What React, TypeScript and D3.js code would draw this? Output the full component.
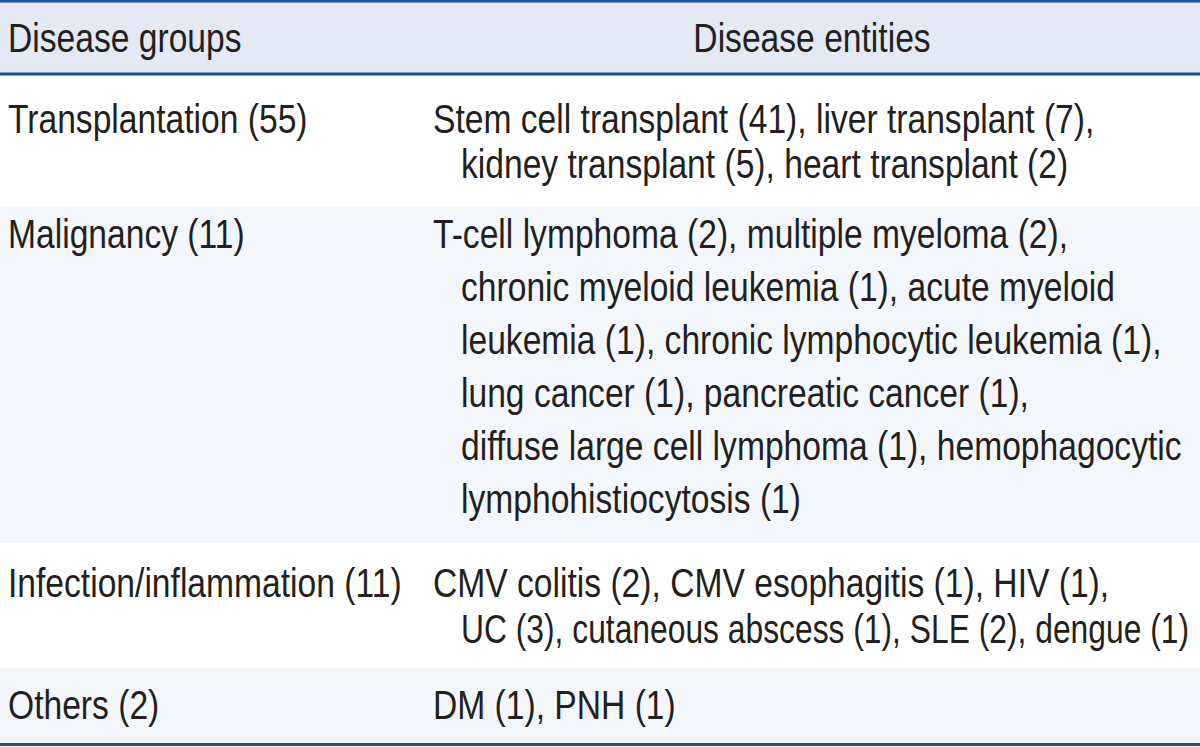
import React, { useEffect, useRef } from 'react'
import * as d3 from 'd3'

// table content
const headers = ['Disease groups', 'Disease entities']

const groups = [
  'Transplantation (55)',
  'Malignancy (11)',
  'Infection/inflammation (11)',
  'Others (2)',
]

const transplantLines = [
  'Stem cell transplant (41), liver transplant (7),',
  'kidney transplant (5), heart transplant (2)',
]
const malignancyLines = [
  'T-cell lymphoma (2), multiple myeloma (2),',
  'chronic myeloid leukemia (1), acute myeloid',
  'leukemia (1), chronic lymphocytic leukemia (1),',
  'lung cancer (1), pancreatic cancer (1),',
  'diffuse large cell lymphoma (1), hemophagocytic',
  'lymphohistiocytosis (1)',
]
const infectionLines = [
  'CMV colitis (2), CMV esophagitis (1), HIV (1),',
  'UC (3), cutaneous abscess (1), SLE (2), dengue (1)',
]
const otherLines = ['DM (1), PNH (1)']

const entities = [transplantLines, malignancyLines, infectionLines, otherLines]

// layout
const W = 1200
const H = 747
const HEADER_BOTTOM = 74
const rowTops = [75, 206, 543, 668, 744]
const firstBaseline = [58, 42, 54, 51]
const lineGap = [45, 53, 46, 45]
const COL1_X = 8
const COL2_X = 433
const INDENT = 28
const RIGHT_EDGE = 1189
const COL2_CENTER = 812
const FONT = '"Liberation Sans", Arial, sans-serif'
const FS = 41
const SQUEEZE = 0.82 // narrow face look
const TEXT = '#231f20'
const RULE = '#1f4f9c'

export default function App() {
  const ref = useRef<SVGSVGElement>(null)

  useEffect(() => {
    document.body.style.margin = '0'
    const svg = d3.select(ref.current)
    svg.selectAll('*').remove()

    svg.append('rect').attr('width', W).attr('height', H).attr('fill', '#fff')

    // header band
    svg.append('rect').attr('x', 0).attr('y', 0).attr('width', W).attr('height', HEADER_BOTTOM)
      .attr('fill', '#e3e9f5')

    const rows = svg.selectAll('g.row').data(groups).join('g').attr('class', 'row')

    rows.append('rect')
      .attr('x', 0)
      .attr('y', (_, i) => rowTops[i])
      .attr('width', W)
      .attr('height', (_, i) => rowTops[i + 1] - rowTops[i])
      .attr('fill', (_, i) => (i % 2 === 1 ? '#f3f6fb' : '#fff'))

    const lineY = (i: number) =>
      d3.scaleLinear().domain([0, 1]).range([rowTops[i] + firstBaseline[i], rowTops[i] + firstBaseline[i] + lineGap[i]])

    const place = (x: number, y: number) => `translate(${x},${y}) scale(${SQUEEZE},1)`

    rows.append('text')
      .attr('transform', (_, i) => place(COL1_X, lineY(i)(0)))
      .text(d => d)

    rows.each(function (_, i) {
      const y = lineY(i)
      d3.select(this).selectAll('text.ent').data(entities[i]).join('text')
        .attr('class', 'ent')
        .attr('data-x', (_, j) => (j === 0 ? COL2_X : COL2_X + INDENT))
        .attr('transform', (_, j) => place(j === 0 ? COL2_X : COL2_X + INDENT, y(j)))
        .text(d => d)
    })

    svg.append('text').attr('transform', place(COL1_X, 52)).text(headers[0])
    svg.append('text').attr('transform', place(COL2_CENTER, 52)).attr('text-anchor', 'middle').text(headers[1])

    svg.selectAll('text')
      .attr('font-family', FONT)
      .attr('font-size', FS)
      .attr('fill', TEXT)

    // tighten lines that would run past the right margin
    svg.selectAll<SVGTextElement, string>('text.ent').each(function () {
      const x = +(this.getAttribute('data-x') || 0)
      const len = this.getComputedTextLength() * SQUEEZE
      if (x + len > RIGHT_EDGE) {
        d3.select(this)
          .attr('textLength', (RIGHT_EDGE - x) / SQUEEZE)
          .attr('lengthAdjust', 'spacingAndGlyphs')
      }
    })

    // rules
    const rules = [1, HEADER_BOTTOM, H - 2.5]
    svg.selectAll('line.rule').data(rules).join('line')
      .attr('class', 'rule')
      .attr('x1', 0).attr('x2', W)
      .attr('y1', d => d).attr('y2', d => d)
      .attr('stroke', RULE)
      .attr('stroke-width', 3)
  }, [])

  return <svg ref={ref} width={W} height={H} style={{ display: 'block' }} />
}
